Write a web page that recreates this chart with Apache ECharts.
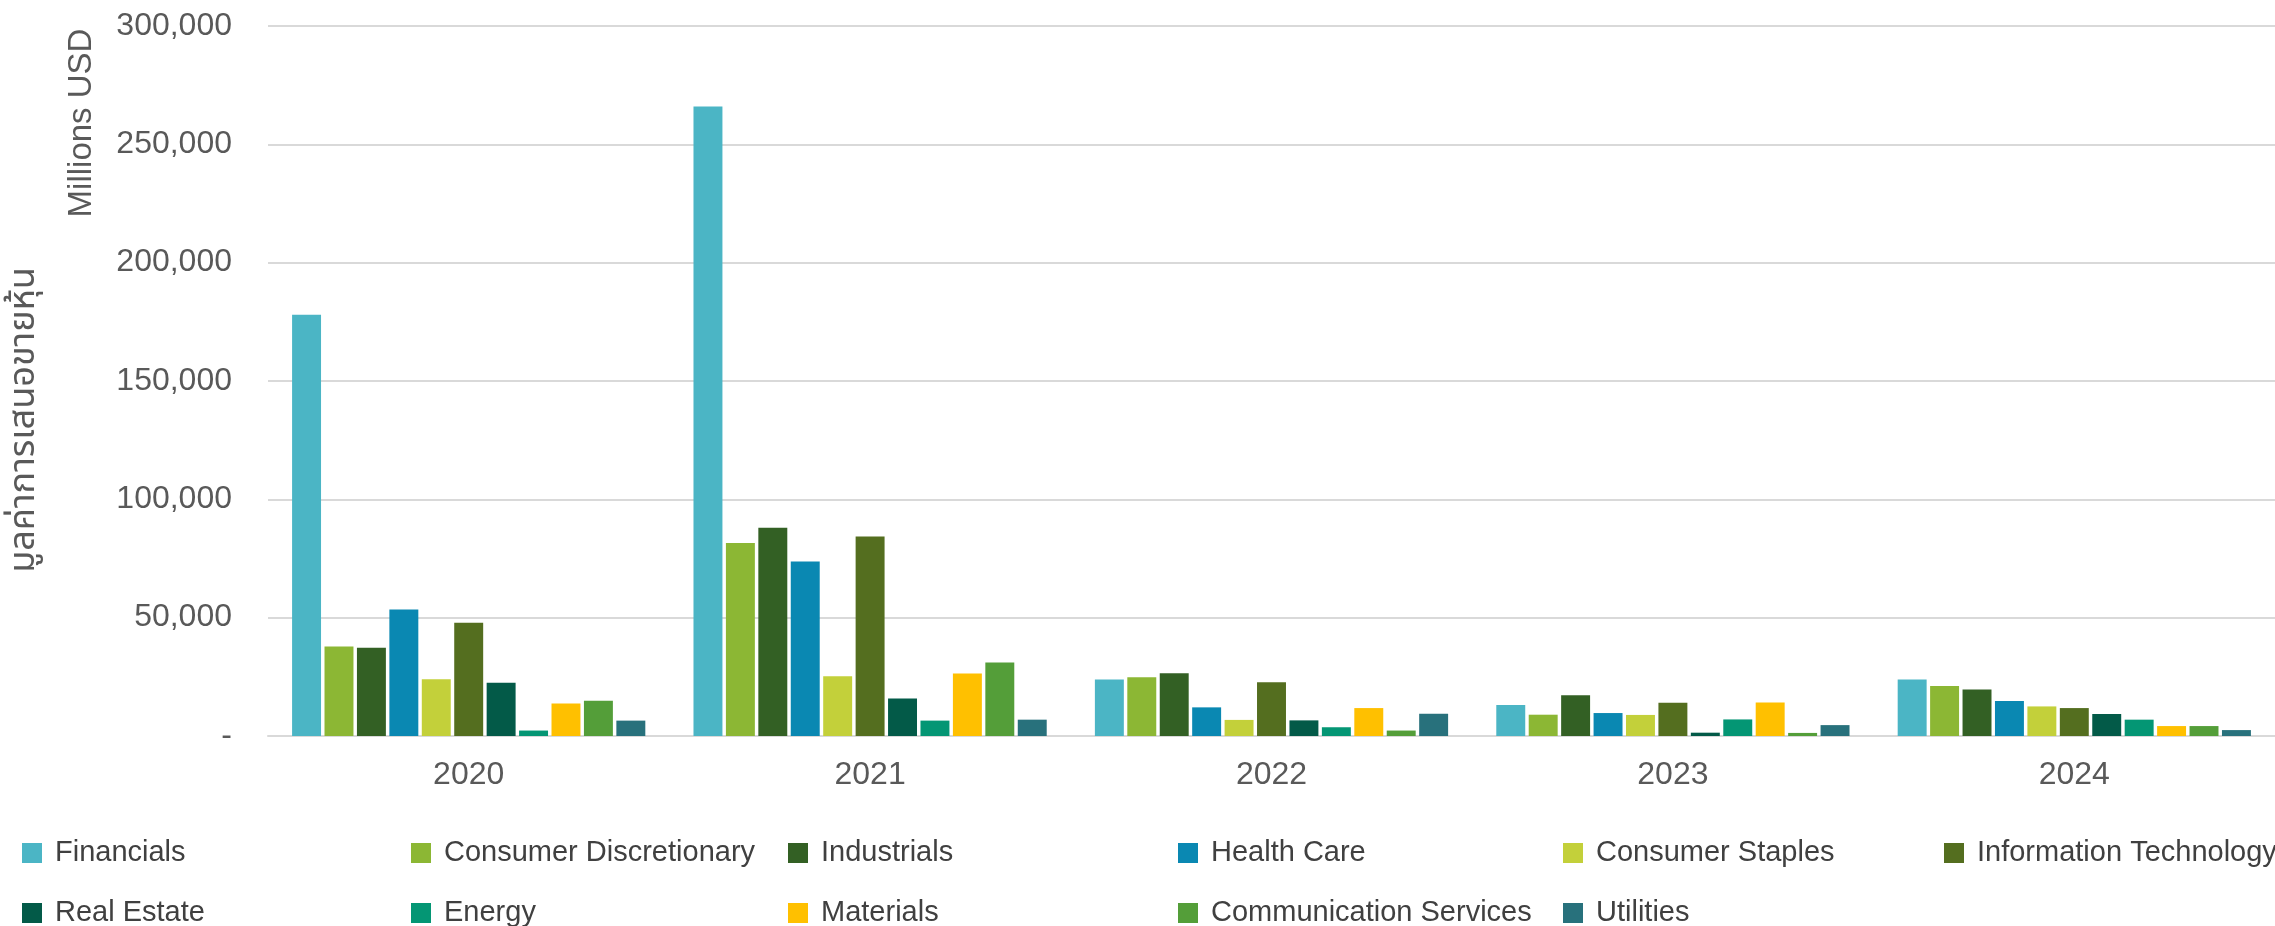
<!DOCTYPE html>
<html>
<head>
<meta charset="utf-8">
<script src="https://cdn.jsdelivr.net/npm/echarts@6/dist/echarts.min.js"></script>
<style>
html,body{margin:0;padding:0;background:#fff;}
#chart{width:2275px;height:926px;}
</style>
</head>
<body>
<div id="chart"></div>
<script>
const years = ['2020', '2021', '2022', '2023', '2024'];
const yTicks = [0, 50000, 100000, 150000, 200000, 250000, 300000];

const financials            = [178000, 266000, 23900, 13100, 23900];
const consumerDiscretionary = [37800, 81500, 24800, 9000, 21100];
const industrials           = [37300, 88000, 26500, 17200, 19600];
const healthCare            = [53500, 73700, 12100, 9700, 14800];
const consumerStaples       = [24000, 25200, 6800, 8900, 12500];
const informationTechnology = [47900, 84300, 22700, 14000, 11800];
const realEstate            = [22500, 15800, 6600, 1400, 9300];
const energy                = [2300, 6500, 3700, 7000, 6900];
const materials             = [13700, 26400, 11800, 14200, 4200];
const communicationServices = [14900, 31100, 2300, 1300, 4200];
const utilities             = [6500, 6900, 9400, 4600, 2500];

const seriesNames = ['Financials', 'Consumer Discretionary', 'Industrials', 'Health Care',
  'Consumer Staples', 'Information Technology', 'Real Estate', 'Energy', 'Materials',
  'Communication Services', 'Utilities'];
const seriesData = [financials, consumerDiscretionary, industrials, healthCare, consumerStaples,
  informationTechnology, realEstate, energy, materials, communicationServices, utilities];
const seriesColors = ['#4BB5C5', '#8CB734', '#336024', '#0A88B2', '#C3D03A', '#546E1F',
  '#035A48', '#049674', '#FFC000', '#549E39', '#28717C'];

const FONT = 'Liberation Sans, Arial, sans-serif';

// legend: 6 columns, 2 rows (one legend per item)
const colLeft = [22, 411, 788, 1178, 1563, 1944];
const legends = [];
seriesNames.forEach((name, i) => {
  const row = Math.floor(i / 6), col = i % 6;
  legends.push({
    orient: 'horizontal',
    left: colLeft[col],
    top: 838 + row * 60,
    padding: 0,
    itemWidth: 20,
    itemHeight: 20,
    icon: 'rect',
    data: [name],
    selectedMode: false,
    textStyle: { fontFamily: FONT, fontSize: 29, color: '#404040', lineHeight: 30, padding: [0, 0, 0, 8] }
  });
});

const chart = echarts.init(document.getElementById('chart'));
chart.setOption({
  animation: false,
  color: seriesColors,
  grid: { left: 268, right: 0, top: 26, bottom: 190, containLabel: false },
  legend: legends,
  xAxis: {
    type: 'category',
    data: years,
    axisTick: { show: false },
    axisLine: { lineStyle: { color: '#D9D9D9', width: 2 } },
    axisLabel: { fontFamily: FONT, fontSize: 32, color: '#595959', margin: 23 }
  },
  yAxis: {
    type: 'value',
    min: yTicks[0],
    max: yTicks[yTicks.length - 1],
    interval: yTicks[1] - yTicks[0],
    axisLine: { show: false },
    axisTick: { show: false },
    splitLine: { lineStyle: { color: '#D9D9D9', width: 2 } },
    axisLabel: {
      fontFamily: FONT, fontSize: 32, color: '#595959', margin: 36,
      formatter: v => v === 0 ? '-' : v.toLocaleString('en-US')
    }
  },
  graphic: [
    {
      type: 'text', x: 82, y: 123, rotation: Math.PI / 2,
      style: { text: 'Millions USD', font: '33px ' + FONT, fill: '#595959', align: 'center', verticalAlign: 'middle' }
    },
    {
      type: 'text', x: 27, y: 420, rotation: Math.PI / 2,
      style: { text: 'มูลค่าการเสนอขายหุ้น', font: '36px "Noto Sans Thai", "Noto Sans", Tahoma, sans-serif', fill: '#595959', align: 'center', verticalAlign: 'middle' }
    }
  ],
  series: seriesNames.map((name, i) => ({
    name: name,
    type: 'bar',
    data: seriesData[i],
    barCategoryGap: '12%',
    barGap: '12%',
    itemStyle: { color: seriesColors[i] }
  }))
});
</script>
</body>
</html>
